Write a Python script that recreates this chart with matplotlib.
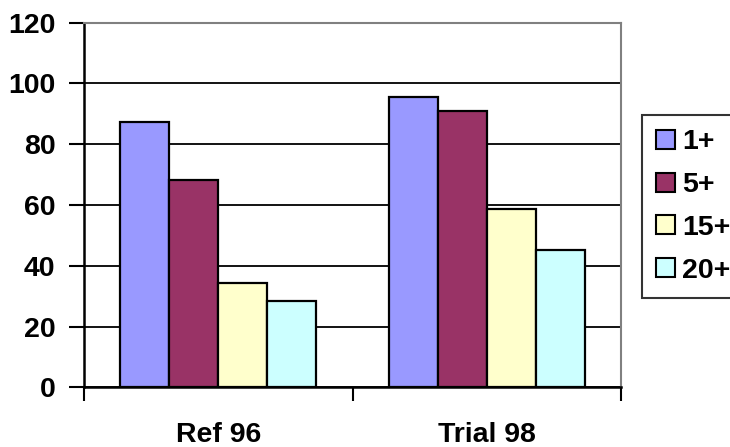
import matplotlib
matplotlib.use("Agg")
import matplotlib.pyplot as plt
import numpy as np
from matplotlib.ticker import FixedLocator, NullFormatter

categories = ["Ref 96", "Trial 98"]
series_names = ["1+", "5+", "15+", "20+"]
values_1 = [87.4, 95.5]
values_5 = [68.1, 90.8]
values_15 = [34.2, 58.6]
values_20 = [28.4, 45.3]
colors = ["#9999FF", "#993366", "#FFFFCC", "#CCFFFF"]
yticks = [0, 20, 40, 60, 80, 100, 120]

plt.rcParams['font.family'] = ['Liberation Sans', 'DejaVu Sans']
plt.rcParams['font.weight'] = 'bold'
FS = 20.5

fig = plt.figure(figsize=(7.3, 4.47), dpi=100)
ax = fig.add_axes([84/730, 1-387.3/447, (621-84)/730, (387.3-22.7)/447])

x = np.arange(len(categories))
bw = 0.1825
all_vals = [values_1, values_5, values_15, values_20]
for i, (name, vals, c) in enumerate(zip(series_names, all_vals, colors)):
    ax.bar(x + (i - 1.5) * bw, vals, width=bw, color=c, edgecolor="black",
           linewidth=1.6, label=name, zorder=3)

ax.set_xlim(-0.5, 1.5)
ax.set_ylim(0, 120)
ax.set_yticks(yticks)
ax.set_yticklabels([str(v) for v in yticks], fontsize=FS, fontweight='bold')
ax.yaxis.grid(True, color="black", linewidth=1.3, zorder=0)
ax.set_axisbelow(True)

ax.xaxis.set_major_locator(FixedLocator([-0.5, 0.5, 1.5]))
ax.xaxis.set_major_formatter(NullFormatter())
ax.xaxis.set_minor_locator(FixedLocator(x))
ax.set_xticklabels(categories, minor=True, fontsize=FS, fontweight='bold')
ax.tick_params(axis='x', which='minor', length=0, pad=25)
ax.tick_params(axis='x', which='major', length=10, width=1.5, direction='out')
ax.tick_params(axis='y', length=11, width=1.5, direction='out', pad=9.5)

for s in ['left', 'bottom']:
    ax.spines[s].set_linewidth(1.8)
    ax.spines[s].set_color('black')
for s in ['top', 'right']:
    ax.spines[s].set_linewidth(1.5)
    ax.spines[s].set_color('#808080')

leg = ax.legend(loc='upper left', bbox_to_anchor=(642/730, 1-115/447),
                bbox_transform=fig.transFigure, frameon=True, fancybox=False,
                prop={'size': FS, 'weight': 'bold'}, handlelength=0.65,
                handleheight=0.65, handletextpad=0.25, labelspacing=0.59,
                borderpad=0.5, borderaxespad=0)
leg.get_frame().set_edgecolor('black')
leg.get_frame().set_linewidth(1.5)
for h in leg.legend_handles:
    h.set_linewidth(1.5)

fig.savefig("out.png", dpi=100)
